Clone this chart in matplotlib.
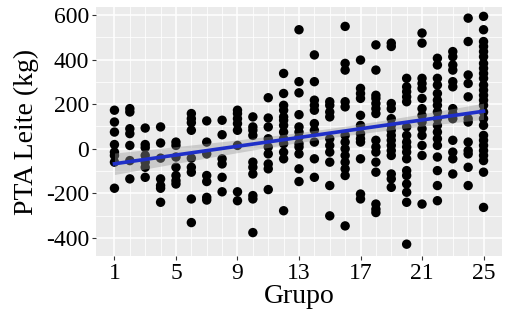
import numpy as np
import matplotlib
matplotlib.use("Agg")
import matplotlib.pyplot as plt
from matplotlib.ticker import FixedLocator

# PTA values per group
g01 = [173, 120, 75, 19, -15, -30, -60, -177]
g02 = [180, 165, 90, 68, 15, -53, -135]
g03 = [93, 19, 5, -30, -60, -83, -128]
g04 = [98, 26, -42, -135, -165, -177, -240]
g05 = [30, 15, -37, -83, -120, -143, -158]
g06 = [158, 135, 117, 83, -42, -83, -105, -225, -331]
g07 = [125, 30, -23, -120, -147, -218, -230]
g08 = [128, 63, -45, -68, -128, -193]
g09 = [173, 158, 135, 113, 83, 15, -193, -233]
g10 = [143, 98, 83, 60, -60, -83, -113, -210, -225, -376]
g11 = [229, 138, 98, 45, 8, -23, -68, -90, -183]
g12 = [338, 248, 195, 173, 143, 128, 105, 75, 45, 23, -15, -45, -278]
g13 = [534, 301, 251, 153, 98, 75, 53, 23, 8, -23, -90, -147]
g14 = [421, 301, 218, 195, 173, 113, 83, 30, -45, -128]
g15 = [211, 195, 165, 143, 45, 15, -15, -60, -165, -301]
g16 = [549, 383, 353, 211, 188, 60, 30, 0, -30, -60, -90, -120, -346]
g17 = [398, 271, 248, 226, 150, 105, 68, 45, 30, -45, -203, -225]
g18 = [466, 353, 240, 226, 203, 180, 158, 38, 8, -15, -60, -105, -248, -271, -286]
g19 = [474, 459, 203, 180, 135, 105, 83, 60, 38, 15, -8, -30, -113, -135, -173]
g20 = [316, 278, 256, 233, 211, 98, 60, 30, 8, -15, -45, -98, -120, -158, -195, -240, -428]
g21 = [519, 474, 316, 293, 271, 226, 180, 150, 120, 90, 60, 15, -30, -248]
g22 = [406, 376, 316, 286, 248, 218, 195, 165, 135, 105, 75, 45, 15, -37, -98, -165, -233]
g23 = [436, 413, 376, 353, 301, 278, 180, 158, 135, 38, -15, -45, -113]
g24 = [586, 481, 331, 293, 233, 135, 120, 30, -8, -23, -83, -165]
g25 = [594, 534, 481, 459, 436, 413, 383, 361, 338, 316, 286, 263, 240, 218,
       195, 165, 135, 105, 60, 38, 15, -8, -30, -53, -105, -263]

groups = [g01, g02, g03, g04, g05, g06, g07, g08, g09, g10, g11, g12, g13,
          g14, g15, g16, g17, g18, g19, g20, g21, g22, g23, g24, g25]

x_ticks = [1, 5, 9, 13, 17, 21, 25]
y_ticks = [-400, -200, 0, 200, 400, 600]

x = np.concatenate([np.full(len(g), i + 1) for i, g in enumerate(groups)]).astype(float)
y = np.concatenate([np.asarray(g, float) for g in groups])

# linear fit + 95% CI
n = len(x)
b1, b0 = np.polyfit(x, y, 1)
resid = y - (b0 + b1 * x)
s = np.sqrt(np.sum(resid ** 2) / (n - 2))
xs = np.linspace(1, 25, 100)
ys = b0 + b1 * xs
se = s * np.sqrt(1 / n + (xs - x.mean()) ** 2 / np.sum((x - x.mean()) ** 2))
tval = 1.966

plt.rcParams['font.family'] = ['Liberation Serif', 'DejaVu Serif']
plt.rcParams['axes.unicode_minus'] = False

fig = plt.figure(figsize=(5.09, 3.20), dpi=100)
ax = fig.add_axes([96 / 509, 1 - 256 / 320, 406 / 509, 249 / 320])
ax.set_facecolor('#EBEBEB')
for sp in ax.spines.values():
    sp.set_visible(False)

ax.set_xlim(-0.2, 26.2)
ax.set_ylim(-481, 636)
ax.xaxis.set_major_locator(FixedLocator(x_ticks))
ax.xaxis.set_minor_locator(FixedLocator([v for v in range(1, 26) if v not in x_ticks]))
ax.yaxis.set_major_locator(FixedLocator(y_ticks))
ax.yaxis.set_minor_locator(FixedLocator([-300, -100, 100, 300, 500]))
ax.grid(which='major', color='white', linewidth=1.1)
ax.grid(which='minor', color='white', linewidth=0.55)
ax.set_axisbelow(True)

ax.tick_params(which='major', length=3, width=0.8, color='#333333',
               labelsize=17, labelcolor='black', pad=2)
ax.tick_params(which='minor', length=0)

ax.scatter(x, y, s=46, color='black', edgecolors='none', zorder=3)
ax.fill_between(xs, ys - tval * se, ys + tval * se, color='#999999', alpha=0.4,
                linewidth=0, zorder=4)
ax.plot(xs, ys, color='#1F2FC8', linewidth=2.6, zorder=5)

ax.set_xlabel('Grupo', fontsize=20, labelpad=0)
ax.set_ylabel('PTA Leite (kg)', fontsize=20, labelpad=5)

fig.savefig('out.png', dpi=100)
